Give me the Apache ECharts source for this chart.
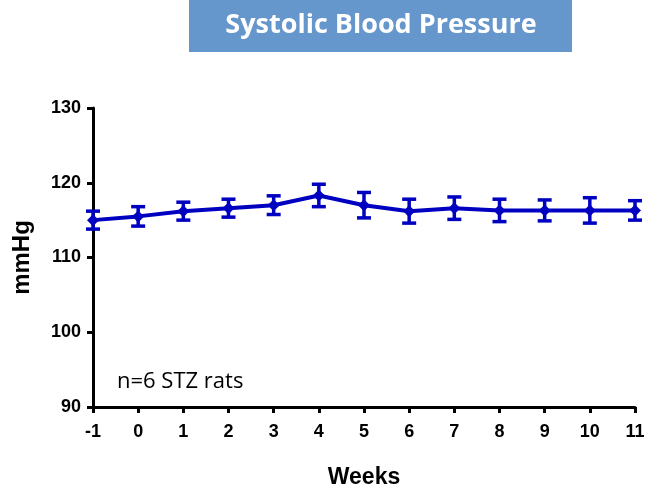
<!DOCTYPE html>
<html><head><meta charset="utf-8">
<script src="https://cdn.jsdelivr.net/npm/echarts@6/dist/echarts.min.js"></script>
<style>html,body{margin:0;padding:0;background:#fff}#c{width:645px;height:487px}</style>
</head><body><div id="c"></div>
<script>
const weeks = [-1, 0, 1, 2, 3, 4, 5, 6, 7, 8, 9, 10, 11];
const meanBP = [115.0, 115.5, 116.2, 116.6, 117.0, 118.3, 117.0, 116.2, 116.6, 116.3, 116.3, 116.3, 116.3];
const semBP = [1.2, 1.3, 1.2, 1.2, 1.25, 1.5, 1.7, 1.6, 1.5, 1.5, 1.4, 1.7, 1.3];
const yTicks = [90, 100, 110, 120, 130];

const lineData = weeks.map((w, i) => [w, meanBP[i]]);
const errData = weeks.map((w, i) => [w, meanBP[i] - semBP[i], meanBP[i] + semBP[i]]);
const blue = '#0000c0';

const chart = echarts.init(document.getElementById('c'));
chart.setOption({
  animation: false,
  backgroundColor: '#fff',
  grid: {left: 93, right: 10, top: 108, bottom: 80, containLabel: false, outerBoundsMode: 'none'},
  graphic: [
    {type: 'rect', x: 189, y: 0, shape: {width: 383, height: 52}, style: {fill: '#6596cc'}, z: 0},
    {type: 'text', x: 381, y: 25, style: {text: 'Systolic Blood Pressure', fill: '#fff', font: 'bold 27px "Open Sans", Lato, sans-serif', textAlign: 'center', textVerticalAlign: 'middle'}, z: 1},
    {type: 'text', x: 117, y: 382, style: {text: 'n=6 STZ rats', fill: '#000', font: '22px "Open Sans", sans-serif', textAlign: 'left', textVerticalAlign: 'middle'}}
  ],
  xAxis: {
    type: 'value', min: -1, max: 11, interval: 1,
    name: 'Weeks', nameLocation: 'middle', nameGap: 71,
    nameTextStyle: {fontFamily: 'Liberation Sans', fontWeight: 'bold', fontSize: 23, color: '#000', verticalAlign: 'middle'},
    axisLine: {onZero: false, lineStyle: {color: '#000', width: 3}},
    axisTick: {show: true, length: 6, lineStyle: {color: '#000', width: 3}},
    axisLabel: {color: '#000', fontFamily: 'Liberation Sans', fontWeight: 'bold', fontSize: 18, margin: 16},
    splitLine: {show: false}
  },
  yAxis: {
    type: 'value', min: 90, max: 130, interval: 10,
    name: 'mmHg', nameLocation: 'middle', nameGap: 71, nameRotate: 90,
    nameTextStyle: {fontFamily: 'Liberation Sans', fontWeight: 'bold', fontSize: 24, color: '#000', verticalAlign: 'middle'},
    axisLine: {show: true, onZero: false, lineStyle: {color: '#000', width: 3}},
    axisTick: {show: true, length: 6, lineStyle: {color: '#000', width: 3}},
    axisLabel: {color: '#000', fontFamily: 'Liberation Sans', fontWeight: 'bold', fontSize: 18, margin: 12,
      formatter: v => yTicks.includes(v) ? String(v) : ''},
    splitLine: {show: false}
  },
  series: [
    {
      type: 'custom', z: 3,
      data: errData,
      renderItem: function (params, api) {
        const x = api.value(0);
        const lo = api.coord([x, api.value(1)]);
        const hi = api.coord([x, api.value(2)]);
        const hw = 7;
        const st = {stroke: blue, lineWidth: 3.5};
        return {type: 'group', children: [
          {type: 'line', shape: {x1: lo[0], y1: lo[1], x2: hi[0], y2: hi[1]}, style: st},
          {type: 'line', shape: {x1: lo[0] - hw, y1: lo[1], x2: lo[0] + hw, y2: lo[1]}, style: st},
          {type: 'line', shape: {x1: hi[0] - hw, y1: hi[1], x2: hi[0] + hw, y2: hi[1]}, style: st}
        ]};
      }
    },
    {
      type: 'line', z: 4,
      data: lineData,
      symbol: 'diamond', symbolSize: 12,
      lineStyle: {color: blue, width: 4},
      itemStyle: {color: blue}
    }
  ]
});
</script></body></html>
